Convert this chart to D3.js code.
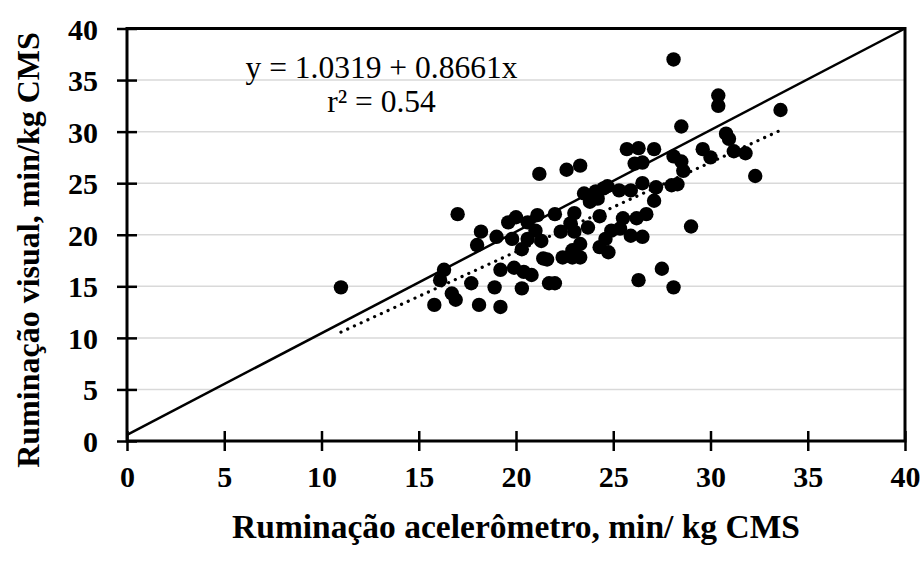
<!DOCTYPE html>
<html>
<head>
<meta charset="utf-8">
<script src="https://cdn.jsdelivr.net/npm/d3@7"></script>
<style>
  html, body { margin: 0; padding: 0; background: #fff; }
  svg { display: block; }
  text { font-family: "Liberation Serif", "Times New Roman", serif; fill: #000; }
</style>
</head>
<body>
<div id="chart"></div>
<script>
// ---- data ----
const accelerometer = [
  11.0, 15.8, 16.1, 16.3, 16.7, 16.9, 17.0, 17.7, 18.0, 18.1,
  18.2, 18.9, 19.0, 19.2, 19.2, 19.6, 19.8, 19.9, 20.0, 20.3,
  20.3, 20.4, 20.6, 20.6, 20.8, 21.0, 21.1, 21.2, 21.3, 21.4,
  21.6, 21.7, 22.0, 22.0, 22.3, 22.4, 22.6, 22.8, 22.9, 22.9,
  23.0, 23.0, 23.3, 23.3, 23.3, 23.5, 23.7, 23.8, 24.1, 24.2,
  24.3, 24.3, 24.5, 24.6, 24.7, 24.75, 24.9, 25.35, 25.3, 25.5,
  25.7, 25.9, 25.9, 26.1, 26.2, 26.3, 26.3, 26.5, 26.5, 26.5,
  26.7, 27.1, 27.1, 27.2, 27.5, 28.0, 28.1, 28.1, 28.1, 28.3,
  28.5, 28.5, 28.6, 29.0, 29.6, 30.0, 30.4, 30.4, 30.8, 30.95,
  31.2, 31.8, 32.3, 33.6
];
const visual = [
  14.9, 13.2, 15.6, 16.6, 14.3, 13.7, 22.0, 15.3, 19.0, 13.2,
  20.3, 14.9, 19.8, 16.6, 13.0, 21.2, 19.6, 16.8, 21.7, 18.6,
  14.8, 16.4, 21.2, 19.6, 16.1, 20.4, 21.9, 25.9, 19.4, 17.7,
  17.6, 15.3, 15.3, 22.0, 20.3, 17.8, 26.3, 21.1, 17.8, 18.5,
  22.1, 20.3, 17.8, 19.1, 26.7, 24.0, 20.7, 23.2, 24.2, 23.5,
  21.8, 18.8, 24.5, 19.6, 24.7, 18.3, 20.4, 20.6, 24.3, 21.6,
  28.3, 24.3, 19.9, 26.9, 21.6, 28.4, 15.6, 19.8, 27.0, 25.0,
  22.0, 28.3, 23.3, 24.6, 16.7, 24.8, 27.6, 14.9, 37.0, 24.9,
  30.5, 27.1, 26.2, 20.8, 28.3, 27.5, 33.5, 32.5, 29.8, 29.3,
  28.1, 27.9, 25.7, 32.1
];
const xTicks = [0, 5, 10, 15, 20, 25, 30, 35, 40];
const yTicks = [0, 5, 10, 15, 20, 25, 30, 35, 40];
const intercept = 1.0319;
const slope = 0.8661;
const fitRange = [11.0, 33.6];
const identityLine = [[0, 0.6], [40, 40]];
const xTitle = "Ruminação acelerômetro, min/ kg CMS";
const yTitle = "Ruminação visual, min/kg CMS";
const eqLines = ["y = 1.0319 + 0.8661x", "r² = 0.54"];

// ---- layout ----
const W = 924, H = 565;
const pLeft = 127, pRight = 905, pTop = 28.5, pBottom = 441;

const svg = d3.select("#chart").append("svg")
  .attr("width", W).attr("height", H);
svg.append("rect").attr("width", W).attr("height", H).attr("fill", "#fff");

const x = d3.scaleLinear().domain([0, 40]).range([pLeft, pRight]);
const y = d3.scaleLinear().domain([0, 40]).range([pBottom, pTop]);

// gridlines
svg.append("g").selectAll("line").data(yTicks.filter(d => d > 0 && d < 40)).join("line")
  .attr("x1", pLeft).attr("x2", pRight)
  .attr("y1", d => y(d)).attr("y2", d => y(d))
  .attr("stroke", "#d9d9d9").attr("stroke-width", 1.5);

// frame
svg.append("rect")
  .attr("x", pLeft).attr("y", pTop)
  .attr("width", pRight - pLeft).attr("height", pBottom - pTop)
  .attr("fill", "none").attr("stroke", "#000").attr("stroke-width", 3);

// identity line
svg.append("line")
  .attr("x1", x(identityLine[0][0])).attr("y1", y(identityLine[0][1]))
  .attr("x2", x(identityLine[1][0])).attr("y2", y(identityLine[1][1]))
  .attr("stroke", "#000").attr("stroke-width", 2.5);

// points
svg.append("g").selectAll("circle").data(accelerometer.map((d, i) => [d, visual[i]])).join("circle")
  .attr("cx", d => x(d[0])).attr("cy", d => y(d[1]))
  .attr("r", 7.2).attr("fill", "#000");

// fitted trend (dotted)
svg.append("line")
  .attr("x1", x(fitRange[0])).attr("y1", y(intercept + slope * fitRange[0]))
  .attr("x2", x(fitRange[1])).attr("y2", y(intercept + slope * fitRange[1]))
  .attr("stroke", "#000").attr("stroke-width", 3.2)
  .attr("stroke-linecap", "round").attr("stroke-dasharray", "0.1 7.3");

// axes
const xAxis = d3.axisBottom(x).tickValues(xTicks).tickSize(0).tickPadding(0).tickFormat(d3.format("d"));
const gx = svg.append("g").attr("transform", `translate(0,${pBottom})`).call(xAxis);
gx.select(".domain").remove();
gx.selectAll(".tick line").attr("y1", -10).attr("y2", 10).attr("stroke", "#000").attr("stroke-width", 2.5);
gx.selectAll(".tick text").attr("y", 46).attr("dy", null)
  .style("font-family", "'Liberation Serif', serif").style("font-size", "30px").style("font-weight", "bold").attr("fill", "#000");

const yAxis = d3.axisLeft(y).tickValues(yTicks).tickSize(0).tickPadding(0).tickFormat(d3.format("d"));
const gy = svg.append("g").attr("transform", `translate(${pLeft},0)`).call(yAxis);
gy.select(".domain").remove();
gy.selectAll(".tick line").attr("x1", -10).attr("x2", 10).attr("stroke", "#000").attr("stroke-width", 2.5);
gy.selectAll(".tick text").attr("x", -29).attr("dy", "0.35em")
  .style("font-family", "'Liberation Serif', serif").style("font-size", "30px").style("font-weight", "bold").attr("fill", "#000");

// axis titles
svg.append("text")
  .attr("x", (pLeft + pRight) / 2).attr("y", 538)
  .attr("text-anchor", "middle")
  .style("font-size", "33.5px").style("font-weight", "bold")
  .text(xTitle);

svg.append("text")
  .attr("transform", `translate(39,250) rotate(-90)`)
  .attr("text-anchor", "middle")
  .style("font-size", "32px").style("font-weight", "bold")
  .text(yTitle);

// equation
svg.append("text").attr("x", 381.5).attr("y", 78).attr("text-anchor", "middle")
  .style("font-size", "31.5px").text(eqLines[0]);
svg.append("text").attr("x", 381.5).attr("y", 112).attr("text-anchor", "middle")
  .style("font-size", "31.5px").text(eqLines[1]);
</script>
</body>
</html>
